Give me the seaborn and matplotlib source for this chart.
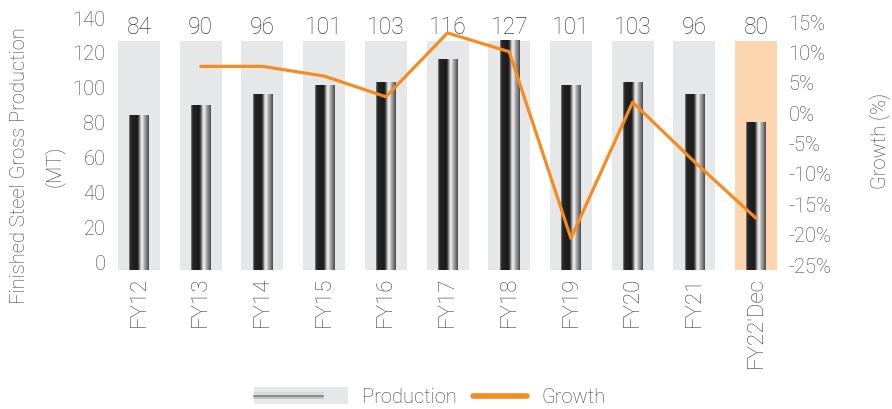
import numpy as np
import pandas as pd
import matplotlib
matplotlib.use("Agg")
import matplotlib.pyplot as plt
import seaborn as sns
from matplotlib.colors import LinearSegmentedColormap
from matplotlib.legend_handler import HandlerBase
from matplotlib.patches import Rectangle
from matplotlib.lines import Line2D

# ---------------- data ----------------
categories = ["FY12", "FY13", "FY14", "FY15", "FY16", "FY17", "FY18",
              "FY19", "FY20", "FY21", "FY22'Dec"]
production = [84, 90, 96, 101, 103, 116, 127, 101, 103, 96, 80]
growth = [np.nan, 7.7, 7.7, 6.1, 2.7, 13.2, 10.1, -20.6, 1.8, -8.0, -17.3]
left_ticks = [0, 20, 40, 60, 80, 100, 120, 140]
right_ticks = [-25, -20, -15, -10, -5, 0, 5, 10, 15]
right_labels = [f"{v}%" for v in right_ticks]

TXT = "#404040"
BG = "#e6e7e8"
BG_LAST = "#fdd5ae"
ORANGE = "#f68b1f"

sns.set_theme(style="white")
plt.rcParams["font.family"] = ["Roboto", "DejaVu Sans"]
plt.rcParams["font.weight"] = "light"
plt.rcParams["axes.labelweight"] = "light"
plt.rcParams["text.color"] = TXT
plt.rcParams["axes.labelcolor"] = TXT
plt.rcParams["xtick.color"] = TXT
plt.rcParams["ytick.color"] = TXT

fig = plt.figure(figsize=(8.92, 4.09), dpi=100)
ax = fig.add_axes([108.2 / 892, 1 - 270 / 409, 678.7 / 892, 252 / 409])

ylo, yhi = -4.59, 140.0
df = pd.DataFrame({"cat": categories, "prod": production,
                   "bg": [max(production)] * len(categories)})

sns.barplot(data=df, x="cat", y="bg", color=BG, width=0.68, saturation=1,
            ax=ax, zorder=1)
n_bg = len(ax.patches)
ax.patches[-1].set_facecolor(BG_LAST)
sns.barplot(data=df, x="cat", y="prod", color="#222222", width=0.31,
            saturation=1, ax=ax, zorder=2)

# extend bars down to the axis bottom
for p in ax.patches:
    h = p.get_height()
    p.set_y(ylo)
    p.set_height(h - ylo)
    p.set_edgecolor("none")

# metallic cylinder gradient
cmap = LinearSegmentedColormap.from_list("steel", [
    (0.00, "#8a8a8a"), (0.07, "#262626"), (0.42, "#1a1a1a"),
    (0.50, "#555555"), (0.58, "#c8c8c8"), (0.66, "#f4f4f4"),
    (0.76, "#b4b4b4"), (0.88, "#828282"), (1.00, "#4a4a4a")])
grad = np.linspace(0, 1, 64).reshape(1, -1)
for p in ax.patches[n_bg:]:
    x0, w = p.get_x(), p.get_width()
    y0, hh = p.get_y(), p.get_height()
    ax.imshow(grad, cmap=cmap, extent=[x0, x0 + w, y0, y0 + hh],
              aspect="auto", interpolation="bilinear", zorder=3)

ax.set_xlim(-0.5, len(categories) - 0.5)
ax.set_ylim(ylo, yhi)
ax.set_yticks(left_ticks)
ax.set_yticklabels([str(v) for v in left_ticks], fontsize=14.5)
ax.set_xlabel("")
ax.set_xticks(range(len(categories)))
ax.set_xticklabels(categories, rotation=90, fontsize=16)
ax.tick_params(axis="x", length=0, pad=5)
ax.tick_params(axis="y", length=0, pad=2)
for s in ax.spines.values():
    s.set_visible(False)
ax.grid(False)

# value labels
for i, v in enumerate(production):
    ax.annotate(str(v), (i, max(production)), xytext=(0, 1),
                textcoords="offset points", ha="center", va="bottom",
                fontsize=16.5, color=TXT)

ax.set_ylabel("Finished Steel Gross Production\n(MT)", fontsize=14.5,
              linespacing=1.9, fontweight="light")
ax.yaxis.label.set_va("center")
ax.yaxis.label.set_ha("center")
ax.yaxis.set_label_coords((37 - 108.2) / 678.7, (270 - 166) / 252)

# growth line
ax2 = ax.twinx()
gdf = pd.DataFrame({"pos": np.arange(len(categories)), "growth": growth})
sns.lineplot(data=gdf, x="pos", y="growth", ax=ax2, color=ORANGE,
             linewidth=2.3)
ax2.set_ylim(-25.82, 15.66)
ax2.set_yticks(right_ticks)
ax2.set_yticklabels(right_labels, fontsize=14.5)
ax2.tick_params(axis="y", length=0, pad=1)
ax2.set_xlim(-0.5, len(categories) - 0.5)
ax2.grid(False)
for s in ax2.spines.values():
    s.set_visible(False)
ax2.set_ylabel("Growth (%)", fontsize=14.5, fontweight="light")
ax2.yaxis.label.set_va("center")
ax2.yaxis.label.set_ha("center")
ax2.yaxis.set_label_coords((880 - 108.2) / 678.7, (270 - 141) / 252)


# legend
class ProdHandler(HandlerBase):
    def create_artists(self, legend, orig_handle, xdescent, ydescent,
                       width, height, fontsize, trans):
        ext = width * 0.72
        x0 = -xdescent - ext
        W = width + ext
        arts = [Rectangle((x0, -ydescent - height * 0.1), W, height * 1.2,
                          facecolor=BG, edgecolor="none", transform=trans)]
        for frac, c, lw in [(0.68, "#d4d4d4", 1.2), (0.5, "#8c8c8c", 1.6),
                            (0.32, "#bdbdbd", 1.2)]:
            y = -ydescent + height * frac
            arts.append(Line2D([x0, x0 + W * 0.73], [y, y], color=c, lw=lw,
                               transform=trans))
        return arts


prod_handle = Rectangle((0, 0), 1, 1)
growth_handle = Line2D([], [], color=ORANGE, lw=4)
fig.legend([prod_handle, growth_handle], ["Production", "Growth"],
           handler_map={Rectangle: ProdHandler()},
           loc="center", bbox_to_anchor=(0.504, 0.029), ncol=2,
           frameon=False, fontsize=14.5, handlelength=2.7,
           handletextpad=0.7, columnspacing=0.8)

fig.savefig("out.png", dpi=100)
